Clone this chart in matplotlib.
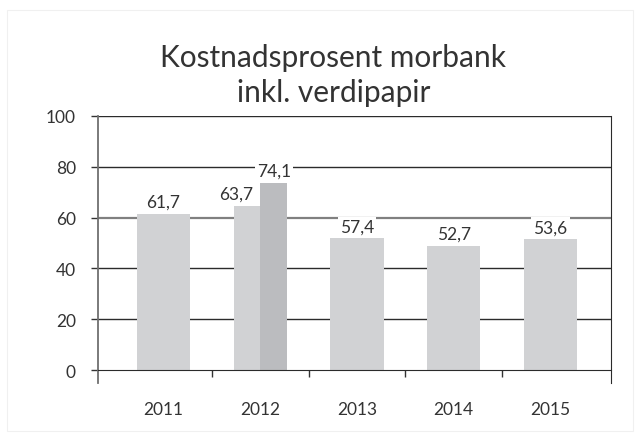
import matplotlib
matplotlib.use("Agg")
import matplotlib.pyplot as plt
from matplotlib.patches import Rectangle

plt.rcParams['font.family'] = ['Lato', 'DejaVu Sans']

years = ['2011', '2012', '2013', '2014', '2015']
# bar heights as drawn in the source picture (labels differ from heights there)
main_heights = [61.5, 64.7, 51.8, 49.0, 51.5]
main_labels = ['61,7', '63,7', '57,4', '52,7', '53,6']
extra_height = 73.8
extra_label = '74,1'

light = '#d1d2d4'
dark = '#bbbcbf'
txt = '#333333'

fig = plt.figure(figsize=(6.41, 4.39), dpi=100)
fig.patches.append(Rectangle((0.011, 0.016), 0.976, 0.96, transform=fig.transFigure,
                             fill=False, edgecolor='#f0f0f0', linewidth=0.8))
ax = fig.add_axes([0.1529, 0.1253, 0.8003, 0.6082])

x = list(range(len(years)))
widths = [0.55, 0.27, 0.55, 0.55, 0.55]
offsets = [0, -0.135, 0, 0, 0]
for i in x:
    ax.bar(i + offsets[i], main_heights[i], width=widths[i], color=light, zorder=3)
ax.bar(1 + 0.14, extra_height, width=0.28, color=dark, zorder=3)

lab_dx = [0, -0.25, 0, 0, 0]
for i in x:
    ax.text(i + lab_dx[i], main_heights[i] + 1.5, main_labels[i], ha='center', va='bottom',
            fontsize=12.5, color=txt, zorder=4,
            bbox=dict(facecolor='white', edgecolor='none', pad=1.5))
ax.text(1 + 0.14, extra_height + 1.5, extra_label, ha='center', va='bottom',
        fontsize=12.5, color=txt, zorder=4,
        bbox=dict(facecolor='white', edgecolor='none', pad=1.5))

ax.set_xlim(-0.677, 4.625)
ax.set_ylim(-5.1, 100)
ax.set_yticks([0, 20, 40, 60, 80, 100])
ax.tick_params(axis='y', length=5, width=1, color='#333333', pad=11, labelsize=12.5,
               labelcolor=txt)
for yv in [20, 40, 60, 80, 100]:
    ax.axhline(yv, color='#808080' if yv == 60 else '#2b2b2b',
               linewidth=1.6 if yv == 60 else 1.0, zorder=1)

ax.set_xticks(x)
ax.set_xticklabels(years)
ax.set_xticks([0.5, 1.5, 2.5, 3.5], minor=True)
ax.tick_params(axis='x', which='major', length=0, pad=22, labelsize=12.5, labelcolor=txt)
ax.tick_params(axis='x', which='minor', length=5, width=1, color='#333333', direction='out')

ax.spines['top'].set_visible(False)
ax.spines['bottom'].set_position(('data', 0))
ax.spines['bottom'].set_color('#2b2b2b')
ax.spines['bottom'].set_zorder(5)
ax.spines['left'].set_color('#707070')
ax.spines['left'].set_linewidth(1.3)
ax.spines['right'].set_color('#2b2b2b')

fig.text(0.52, 0.828, 'Kostnadsprosent morbank\ninkl. verdipapir', ha='center',
         va='center', fontsize=21.5, color=txt, linespacing=1.3)

fig.savefig('out.png', dpi=100, facecolor='white')
